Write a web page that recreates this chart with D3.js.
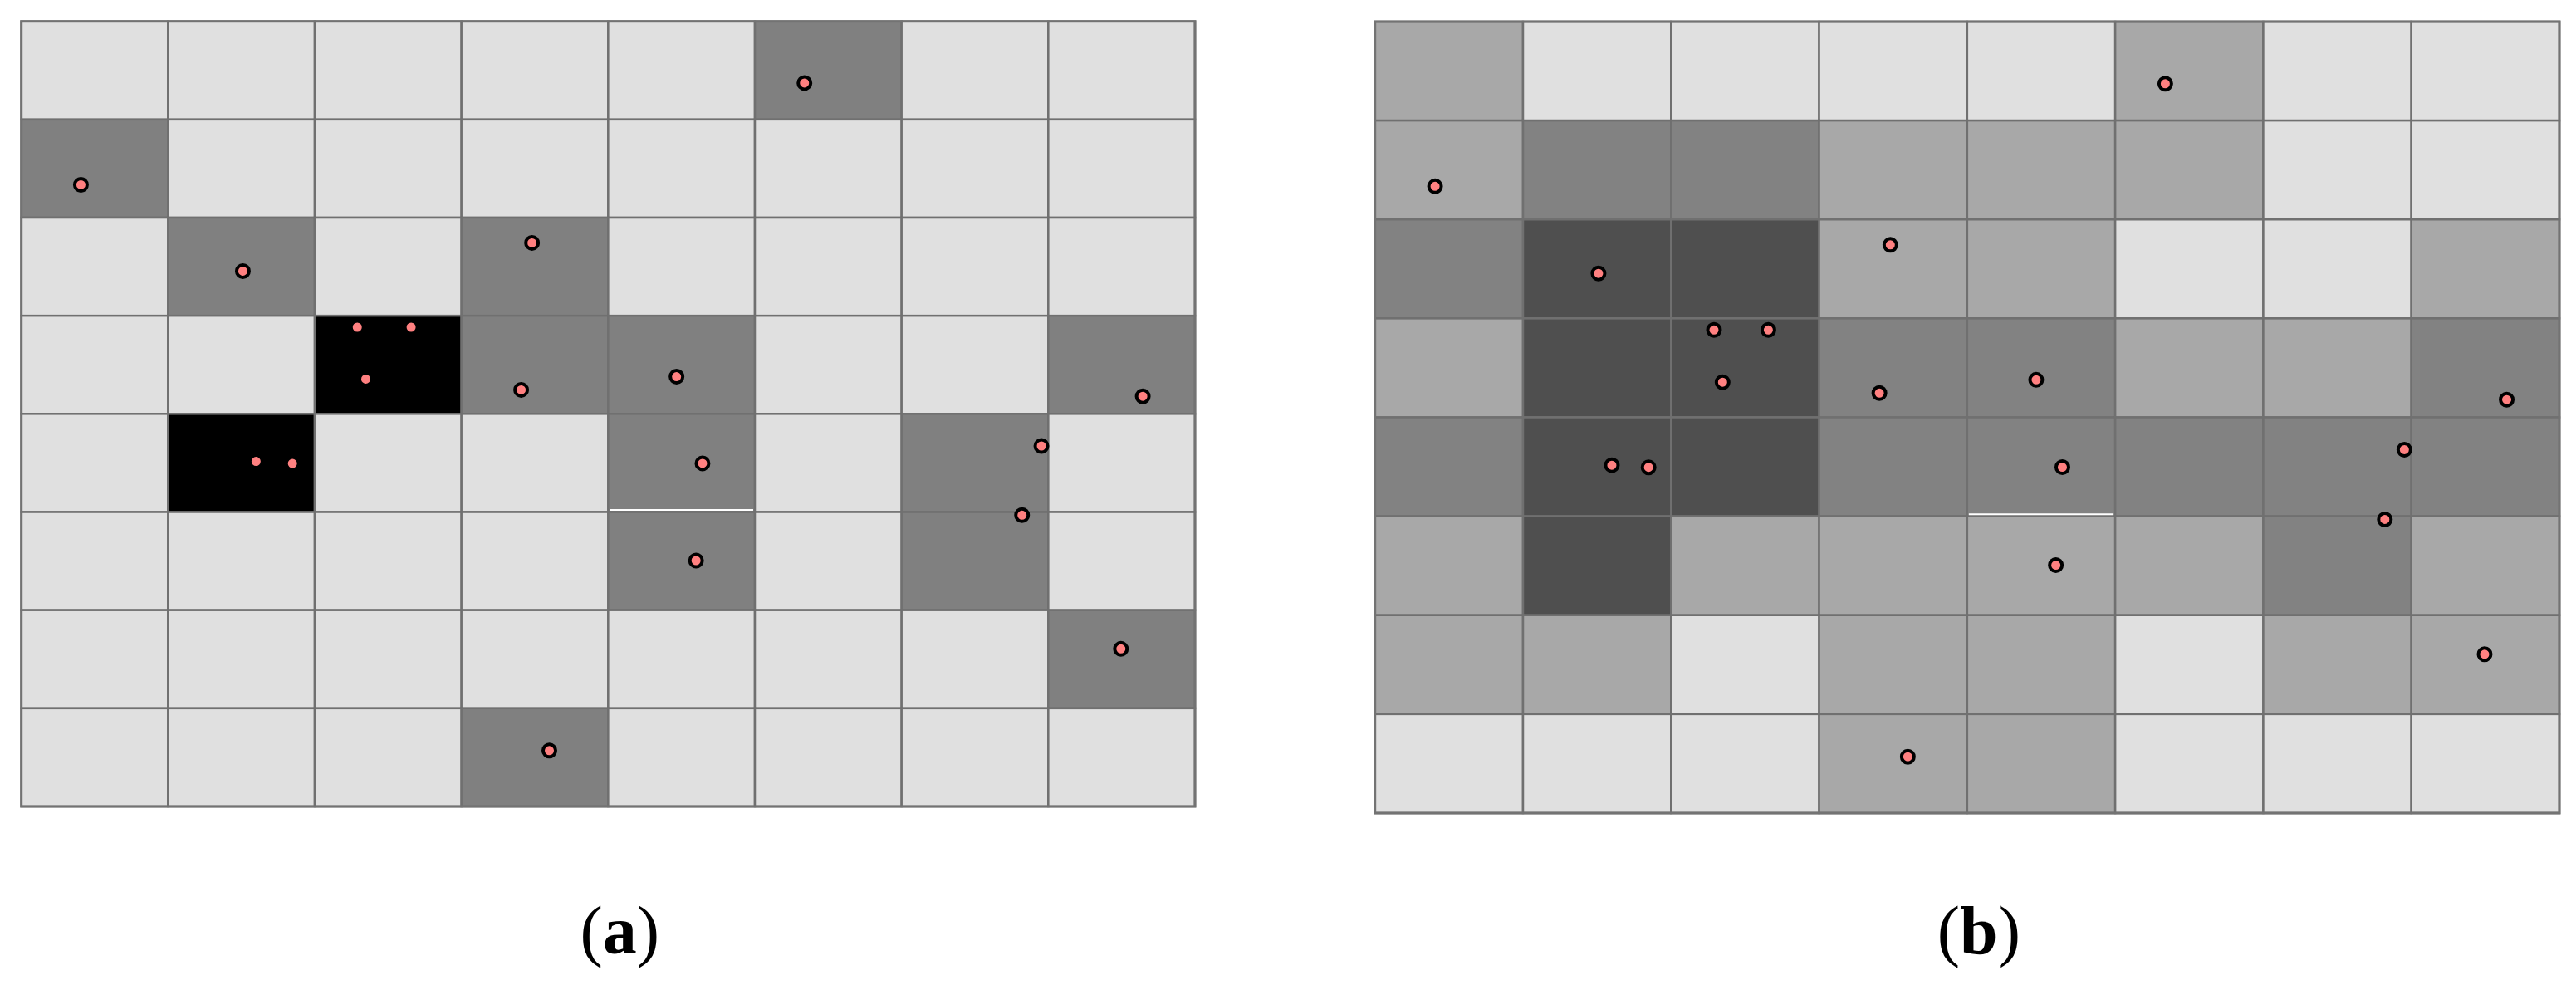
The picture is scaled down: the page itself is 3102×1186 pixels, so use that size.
<!DOCTYPE html>
<html>
<head>
<meta charset="utf-8">
<script src="https://cdn.jsdelivr.net/npm/d3@7"></script>
<style>
  html, body { margin: 0; padding: 0; background: #ffffff; }
  svg { display: block; }
</style>
</head>
<body>
<svg id="chart" width="3102" height="1186"></svg>
<script>
// ---------- DATA ----------
const rowIndex = [0, 1, 2, 3, 4, 5, 6, 7];
const colIndex = [0, 1, 2, 3, 4, 5, 6, 7];

// (a) number of points per grid cell (row-major, top to bottom)
const countsA = [
  [0, 0, 0, 0, 0, 1, 0, 0],
  [1, 0, 0, 0, 0, 0, 0, 0],
  [0, 1, 0, 1, 0, 0, 0, 0],
  [0, 0, 3, 1, 1, 0, 0, 1],
  [0, 2, 0, 0, 1, 0, 1, 0],
  [0, 0, 0, 0, 1, 0, 1, 0],
  [0, 0, 0, 0, 0, 0, 0, 1],
  [0, 0, 0, 1, 0, 0, 0, 0]
];

// (b) smoothed density level per grid cell (0 = lowest, 3 = highest)
const levelsB = [
  [1, 0, 0, 0, 0, 1, 0, 0],
  [1, 2, 2, 1, 1, 1, 0, 0],
  [2, 3, 3, 1, 1, 0, 0, 1],
  [1, 3, 3, 2, 2, 1, 1, 2],
  [2, 3, 3, 2, 2, 2, 2, 2],
  [1, 3, 1, 1, 1, 1, 2, 1],
  [1, 1, 0, 1, 1, 0, 1, 1],
  [0, 0, 0, 1, 1, 0, 0, 0]
];

// point locations in grid units (column, row)
const pointCol = [5.338, 0.406, 1.510, 3.481, 2.290, 2.657, 2.348, 3.407, 4.466,
                  7.644, 1.600, 1.848, 4.643, 6.953, 6.821, 4.599, 7.495, 3.599];
const pointRow = [0.628, 1.665, 2.545, 2.257, 3.117, 3.117, 3.645, 3.755, 3.621,
                  3.821, 4.484, 4.505, 4.504, 4.327, 5.032, 5.495, 6.395, 7.431];

const panelLabels = ["a", "b"];

// ---------- STYLE ----------
const colorA = d3.scaleThreshold().domain([1, 2]).range(["#e0e0e0", "#808080", "#000000"]);
const colorB = d3.scaleOrdinal().domain([0, 1, 2, 3]).range(["#e0e0e0", "#a8a8a8", "#828282", "#4f4f4f"]);

const panels = [
  { grid: countsA, color: colorA, x: [25.7, 1439], y: [25.7, 971], label: panelLabels[0] },
  { grid: levelsB, color: colorB, x: [1655.7, 3082], y: [26, 979], label: panelLabels[1] }
];

const svg = d3.select("#chart");

panels.forEach(p => {
  const x = d3.scaleLinear().domain([0, colIndex.length]).range(p.x);
  const y = d3.scaleLinear().domain([0, rowIndex.length]).range(p.y);
  const g = svg.append("g");

  const cells = [];
  rowIndex.forEach(r => colIndex.forEach(c => cells.push({ r, c, v: p.grid[r][c] })));

  g.selectAll("rect.cell")
    .data(cells)
    .join("rect")
    .attr("class", "cell")
    .attr("x", d => x(d.c))
    .attr("y", d => y(d.r))
    .attr("width", x(1) - x(0))
    .attr("height", y(1) - y(0))
    .attr("fill", d => p.color(d.v))
    .attr("stroke", "#707070")
    .attr("stroke-width", 2.5);

  // small rendering seam seen under the cell at row 4, column 4
  g.append("line")
    .attr("x1", x(4) + 2).attr("x2", x(5) - 2)
    .attr("y1", y(5) - 2.5).attr("y2", y(5) - 2.5)
    .attr("stroke", "#ffffff").attr("stroke-width", 2);

  // outer frame
  g.append("rect")
    .attr("x", x(0)).attr("y", y(0))
    .attr("width", x(8) - x(0)).attr("height", y(8) - y(0))
    .attr("fill", "none").attr("stroke", "#737373").attr("stroke-width", 3);

  g.selectAll("circle.pt")
    .data(pointCol.map((c, i) => ({ c, r: pointRow[i] })))
    .join("circle")
    .attr("class", "pt")
    .attr("cx", d => x(d.c))
    .attr("cy", d => y(d.r))
    .attr("r", 7.5)
    .attr("fill", "#ff8080")
    .attr("stroke", "#000000")
    .attr("stroke-width", 4);

  const cx = (x(0) + x(8)) / 2 + 14;
  const t = svg.append("text")
    .attr("x", cx)
    .attr("y", 1148)
    .attr("text-anchor", "middle")
    .attr("font-family", "'Liberation Serif', 'Times New Roman', serif")
    .attr("font-size", 82)
    .attr("fill", "#000000");
  t.append("tspan").text("(");
  t.append("tspan").attr("font-weight", "bold").text(p.label);
  t.append("tspan").text(")");
});
</script>
</body>
</html>
